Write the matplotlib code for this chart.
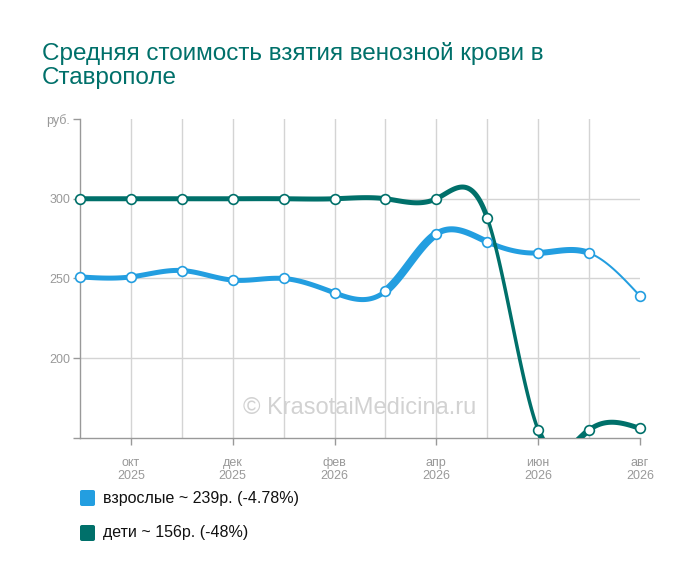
import numpy as np
import matplotlib
matplotlib.use('Agg')
import matplotlib.pyplot as plt

plt.rcParams['font.family'] = ['Liberation Sans', 'DejaVu Sans']

# data
months = ['сен\n2025', 'окт\n2025', 'ноя\n2025', 'дек\n2025', 'янв\n2026', 'фев\n2026',
          'мар\n2026', 'апр\n2026', 'май\n2026', 'июн\n2026', 'июл\n2026', 'авг\n2026']
adults = [251, 251, 255, 249, 250, 241, 242, 278, 273, 266, 266, 239]
kids = [300, 300, 300, 300, 300, 300, 300, 300, 288, 155, 155, 156]
# per-segment stroke widths (px), the source draws segments unevenly
adults_w = [5, 5, 5, 5, 5, 5, 8, 6, 5, 6, 2]
kids_w = [5, 5, 5, 5, 5, 5, 5, 5, 3.5, 6, 5]

labels = ['взрослые ~ 239р. (-4.78%)', 'дети ~ 156р. (-48%)']
colors = ['#239ee0', '#00706a']
title = 'Средняя стоимость взятия венозной крови в\nСтаврополе'


def spline_segments(y, n=40):
    """Natural cubic spline pieces between consecutive points (unit spacing)."""
    y = np.asarray(y, float)
    k = len(y)
    A = np.zeros((k, k))
    r = np.zeros(k)
    A[0, 0] = A[-1, -1] = 1
    for i in range(1, k - 1):
        A[i, i - 1], A[i, i], A[i, i + 1] = 1, 4, 1
        r[i] = 6 * (y[i + 1] - 2 * y[i] + y[i - 1])
    M = np.linalg.solve(A, r)
    t = np.linspace(0, 1, n)
    segs = []
    for i in range(k - 1):
        ys = ((1 - t) * y[i] + t * y[i + 1]
              + ((1 - t)**3 - (1 - t)) * M[i] / 6 + (t**3 - t) * M[i + 1] / 6)
        segs.append((i + t, ys))
    return segs


fig = plt.figure(figsize=(7, 5.82), dpi=100)
ax = fig.add_axes([80 / 700, 1 - 438 / 582, 560 / 700, 319 / 582])
x = np.arange(len(months))

for vals, widths, col in [(adults, adults_w, colors[0]), (kids, kids_w, colors[1])]:
    for (xs, ys), w in zip(spline_segments(vals), widths):
        ax.plot(xs, ys, color=col, lw=w * 0.72, solid_capstyle='round', zorder=3)
    ax.plot(x, vals, 'o', ms=7, mfc='white', mec=col, mew=1.2, zorder=4, clip_on=False)

ax.set_xlim(0, len(months) - 1)
ax.set_ylim(150, 350)

for v in [200, 250, 300]:
    ax.axhline(v, color='#d4d4d4', lw=1, zorder=1)
for i in range(1, len(months) - 1):
    ax.axvline(i, color='#d4d4d4', lw=1, zorder=1)

ax.set_yticks([150, 200, 250, 300, 350])
ax.set_yticklabels(['', '200', '250', '300', 'руб.'])
ax.set_xticks(x[1::2])
ax.set_xticklabels(months[1::2])
ax.tick_params(axis='y', colors='#999999', labelsize=9, length=5, width=1, pad=2)
ax.tick_params(axis='x', colors='#999999', labelsize=9, length=5, width=1, pad=9)
for lab in ax.get_xticklabels():
    lab.set_linespacing(1.05)

for s in ['top', 'right']:
    ax.spines[s].set_visible(False)
for s in ['left', 'bottom']:
    ax.spines[s].set_color('#999999')
    ax.spines[s].set_linewidth(1)

ax.text(0.5, 0.094, '© KrasotaiMedicina.ru', transform=ax.transAxes, ha='center', va='center',
        fontsize=17, color='#d2d2d2', zorder=2)

for j, line in enumerate(title.split('\n')):
    fig.text(42 / 700, 1 - (60 + 24 * j) / 582, line, ha='left', va='baseline', fontsize=17.5,
             color='#00706a')

for i, (lab, col) in enumerate(zip(labels, colors)):
    yc = 1 - (498 + 35 * i) / 582
    fig.patches.append(matplotlib.patches.FancyBboxPatch(
        (80 / 700, yc - 8 / 582), 15 / 700, 16 / 582, boxstyle='round,pad=0,rounding_size=0.003',
        transform=fig.transFigure, facecolor=col, edgecolor='none'))
    fig.text(103 / 700, yc, lab, ha='left', va='center', fontsize=11.5, color='#111111')

fig.savefig('out.png', dpi=100)
